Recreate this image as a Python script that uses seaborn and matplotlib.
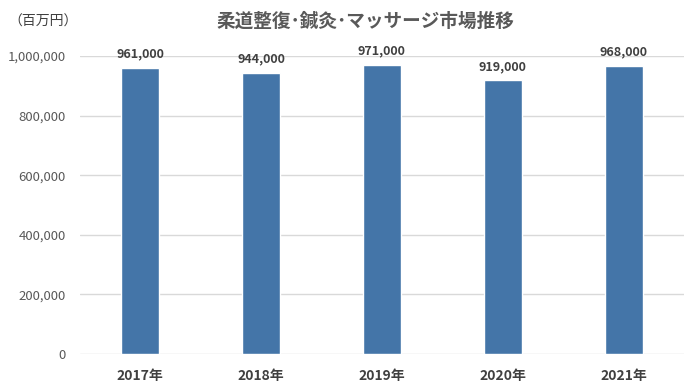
import matplotlib
matplotlib.use("Agg")
import matplotlib.pyplot as plt
import seaborn as sns
import pandas as pd
from matplotlib.ticker import FuncFormatter

years = ["2017年", "2018年", "2019年", "2020年", "2021年"]
values = [961000, 944000, 971000, 919000, 968000]
title = "柔道整復･鍼灸･マッサージ市場推移"
unit = "（百万円）"

sns.set_theme(style="white")
plt.rcParams['font.family'] = ['Noto Sans CJK JP', 'DejaVu Sans']

df = pd.DataFrame({"year": years, "value": values})
fig = plt.figure(figsize=(6.94, 3.87), dpi=100)
ax = fig.add_axes([0.115, 0.0853, 0.8706, 0.7700])
sns.barplot(data=df, x="year", y="value", color="#4475a8", saturation=1, width=0.315, ax=ax)
ax.set_xlim(-0.5, 4.5)
ax.set_ylim(0, 1000000)
ax.set_yticks(range(0, 1000001, 200000))
ax.yaxis.set_major_formatter(FuncFormatter(lambda v, p: f"{int(v):,}"))
ax.grid(axis="y", color="#d9d9d9", linewidth=1)
ax.set_axisbelow(True)
for s in ax.spines.values():
    s.set_visible(False)
ax.set_xlabel("")
ax.set_ylabel("")
ax.tick_params(axis="y", colors="#595959", labelsize=9.5, length=0, pad=10)
ax.tick_params(axis="x", colors="#404040", labelsize=10, length=0, pad=11)
for lab in ax.get_xticklabels():
    lab.set_fontweight("bold")
for i, v in enumerate(values):
    ax.annotate(f"{v:,}", (i, v), xytext=(0, 5), textcoords="offset points",
                ha="center", va="bottom", fontsize=9, fontweight="bold", color="#404040")
fig.text(0.526, 0.945, title, ha="center", va="center", fontsize=13.4, fontweight="bold", color="#595959")
fig.text(0.012, 0.945, unit, ha="left", va="center", fontsize=10, color="#404040")
fig.savefig("out.png", dpi=100)
